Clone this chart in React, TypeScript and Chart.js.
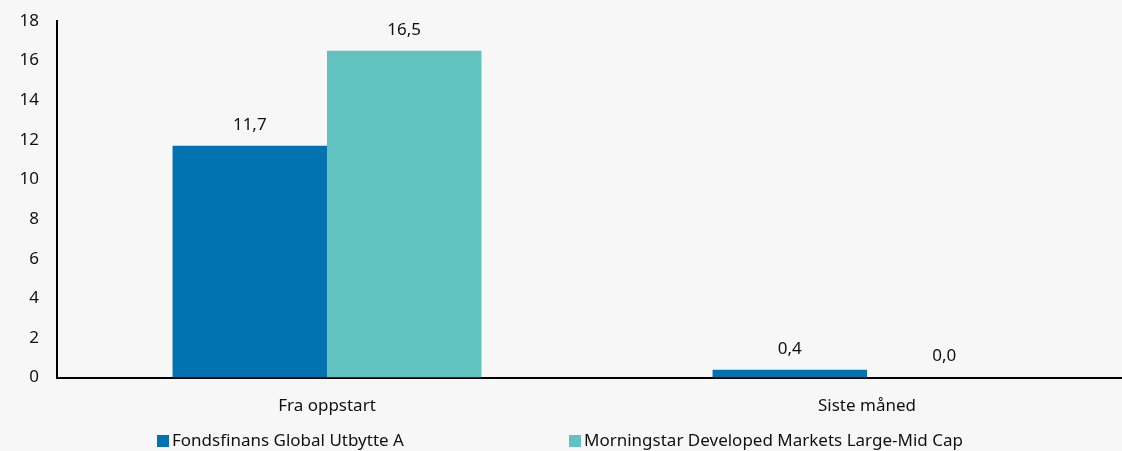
import React, { useEffect, useRef } from "react";
import { Chart, registerables } from "chart.js";

Chart.register(...registerables);

const categories = ["Fra oppstart", "Siste måned"];
const seriesNames = ["Fondsfinans Global Utbytte A", "Morningstar Developed Markets Large-Mid Cap"];
const fundValues = [11.7, 0.4];
const indexValues = [16.5, 0.0];
const seriesColors = ["#0273B0", "#62C2C0"];
const yTicks = [0, 2, 4, 6, 8, 10, 12, 14, 16, 18];

const FONT = "'Noto Sans', sans-serif";
const TEXT = "#111111";
const SIZE = 17;

const fmt = (v: number) => v.toFixed(1).replace(".", ",");

export default function App() {
  const ref = useRef<HTMLCanvasElement | null>(null);

  useEffect(() => {
    document.body.style.margin = "0";
    const canvas = ref.current;
    if (!canvas) return;

    const labelPlugin = {
      id: "valueLabels",
      afterDatasetsDraw(chart: any) {
        const ctx = chart.ctx;
        ctx.save();
        ctx.font = `${SIZE}px ${FONT}`;
        ctx.fillStyle = TEXT;
        ctx.textAlign = "center";
        ctx.textBaseline = "middle";
        chart.data.datasets.forEach((ds: any, di: number) => {
          const meta = chart.getDatasetMeta(di);
          meta.data.forEach((el: any, i: number) => {
            ctx.fillText(fmt(ds.data[i]), el.x, el.y - 21);
          });
        });
        ctx.restore();
      },
    };

    const legendPlugin = {
      id: "customLegend",
      afterDraw(chart: any) {
        const ctx = chart.ctx;
        ctx.save();
        ctx.font = `${SIZE}px ${FONT}`;
        ctx.textBaseline = "middle";
        ctx.textAlign = "left";
        const y = 441;
        const starts = [157, 569];
        chart.data.datasets.forEach((ds: any, i: number) => {
          const x = starts[i];
          ctx.fillStyle = ds.backgroundColor;
          ctx.fillRect(x, y - 6, 12, 12);
          ctx.fillStyle = TEXT;
          ctx.fillText(ds.label, x + 15, y);
        });
        ctx.restore();
      },
    };

    const chart = new Chart(canvas, {
      type: "bar",
      data: {
        labels: categories,
        datasets: [
          { label: seriesNames[0], data: fundValues, backgroundColor: seriesColors[0] },
          { label: seriesNames[1], data: indexValues, backgroundColor: seriesColors[1] },
        ],
      },
      options: {
        responsive: false,
        animation: false,
        maintainAspectRatio: false,
        layout: { padding: { top: 21, right: 3, bottom: 17, left: 0 } },
        datasets: {
          bar: { categoryPercentage: 0.572, barPercentage: 1 },
        } as any,
        plugins: {
          legend: { display: false },
          tooltip: { enabled: false },
        },
        scales: {
          x: {
            grid: { display: false, drawTicks: false },
            border: { display: true, color: "#000", width: 2 },
            ticks: { color: TEXT, font: { family: FONT, size: SIZE }, padding: 18 },
          },
          y: {
            min: 0,
            max: 18,
            afterFit(scale: any) {
              scale.width = 57;
              scale.paddingTop = 0;
              scale.paddingBottom = 0;
            },
            afterBuildTicks(scale: any) {
              scale.ticks = yTicks.map((v) => ({ value: v }));
            },
            grid: { display: false, drawTicks: false },
            border: { display: true, color: "#000", width: 2 },
            ticks: { color: TEXT, font: { family: FONT, size: SIZE }, padding: 18 },
          },
        },
      },
      plugins: [labelPlugin, legendPlugin],
    });

    return () => chart.destroy();
  }, []);

  return (
    <div
      style={{
        position: "fixed",
        left: 0,
        top: 0,
        width: 1122,
        height: 451,
        overflow: "hidden",
        background: "#F7F7F7",
      }}
    >
      <canvas ref={ref} width={1140} height={451} style={{ display: "block" }} />
    </div>
  );
}
